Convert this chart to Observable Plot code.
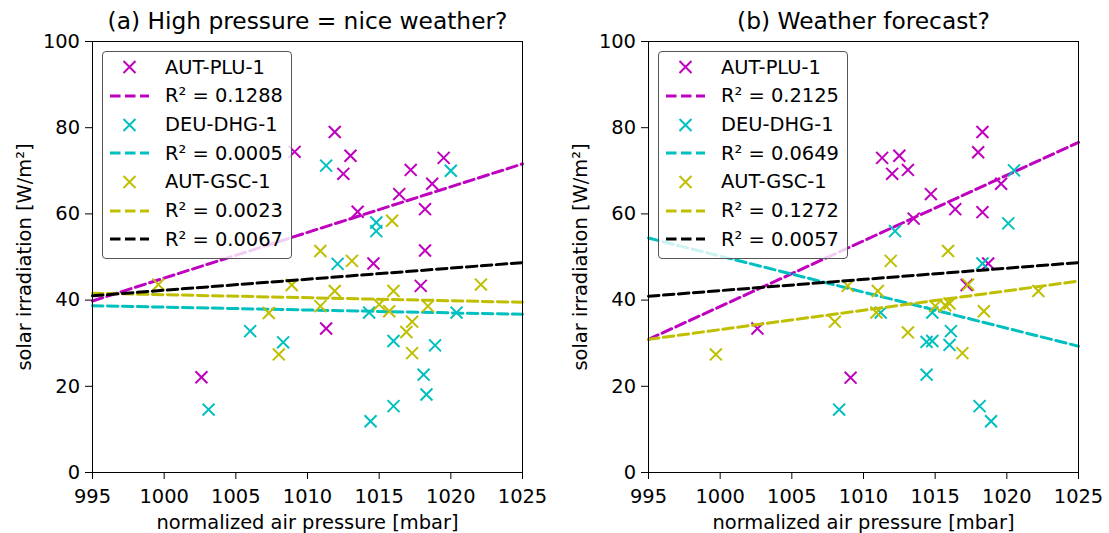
<!DOCTYPE html>
<html><head><meta charset="utf-8">
<script src="https://cdn.jsdelivr.net/npm/d3@7"></script>
<script src="https://cdn.jsdelivr.net/npm/@observablehq/plot@0.6"></script>
<style>
html,body{margin:0;padding:0;background:#fff;overflow:hidden;}
#root{position:relative;width:1109px;height:533px;font-family:"DejaVu Sans",sans-serif;}
.panel{position:absolute;top:0;}
.legend{position:absolute;top:51px;width:190px;height:208px;box-sizing:border-box;border:1px solid #555;border-radius:4px;background:rgba(255,255,255,0.8);padding-top:1px;}
.row{height:28.67px;display:flex;align-items:center;font-size:19.44px;color:#000;white-space:nowrap;font-family:"DejaVu Sans",sans-serif;}
.row svg{flex:none;width:62px;height:28px;}
</style></head><body><div id="root"></div>
<script>
// ---- data ----
const xTicks = [995, 1000, 1005, 1010, 1015, 1020, 1025];
const yTicks = [0, 20, 40, 60, 80, 100];
const seriesNames = ["AUT-PLU-1", "DEU-DHG-1", "AUT-GSC-1"];
const titles = ["(a) High pressure = nice weather?", "(b) Weather forecast?"];
const xLabel = "normalized air pressure [mbar]";
const yLabel = "solar irradiation [W/m²]";
const fitX = [995, 1025];

// panel (a): [pressure, irradiation]
const aPLU = [[1002.6,22.1],[1009.1,74.4],[1011.9,79.0],[1013.0,73.5],[1012.5,69.3],[1017.2,70.2],[1019.5,73.0],[1018.7,67.0],[1016.4,64.6],[1018.2,61.1],[1013.5,60.5],[1018.2,51.5],[1014.6,48.5],[1017.9,43.3],[1011.3,33.4]];
const aDHG = [[1011.3,71.2],[1020.0,70.0],[1014.8,58.0],[1014.8,56.0],[1006.0,32.8],[1008.3,30.2],[1003.1,14.6],[1012.1,48.4],[1014.3,37.1],[1020.4,37.1],[1016.0,30.5],[1018.9,29.5],[1018.1,22.7],[1018.3,18.1],[1016.0,15.4],[1014.4,11.9]];
const aGSC = [[1015.9,58.4],[1010.9,51.4],[1013.1,49.1],[999.6,43.6],[1007.3,37.0],[1008.0,27.4],[1008.9,43.5],[1011.9,42.1],[1010.9,38.6],[1016.0,42.1],[1015.0,39.0],[1015.7,37.4],[1018.4,38.6],[1017.3,35.0],[1016.9,32.6],[1017.3,27.7],[1022.1,43.6]];
const aFitPLU = [39.8, 71.6];
const aFitDHG = [38.7, 36.7];
const aFitGSC = [41.6, 39.5];
const aFitAll = [41.0, 48.7];
const aR2 = ["0.1288", "0.0005", "0.0023", "0.0067"];

// panel (b)
const bPLU = [[1018.3,79.0],[1018.0,74.3],[1011.3,73.0],[1012.5,73.5],[1012.0,69.3],[1013.1,70.2],[1014.7,64.6],[1019.6,67.0],[1016.4,61.1],[1013.5,58.9],[1018.3,60.4],[1018.7,48.5],[1017.2,43.5],[1002.6,33.4],[1009.1,22.0]];
const bDHG = [[1020.5,70.1],[1020.1,57.8],[1012.2,56.0],[1018.3,48.5],[1011.2,37.1],[1014.8,37.1],[1016.1,32.8],[1014.4,30.3],[1014.8,30.5],[1016.0,29.6],[1014.4,22.7],[1018.1,15.4],[1018.9,11.9],[1008.3,14.6]];
const bGSC = [[1015.9,51.4],[1011.9,49.1],[1011.0,42.1],[1010.9,37.1],[1017.3,43.6],[1022.2,42.1],[1015.0,38.6],[1015.7,38.8],[1016.0,39.2],[1018.4,37.4],[1013.1,32.5],[1016.9,27.7],[999.7,27.4],[1008.0,35.0],[1008.9,43.3]];
const bFitPLU = [30.9, 76.6];
const bFitDHG = [54.4, 29.3];
const bFitGSC = [30.9, 44.4];
const bFitAll = [40.9, 48.7];
const bR2 = ["0.2125", "0.0649", "0.1272", "0.0057"];

// ---- styling ----
const colors = ["#bf00bf", "#00bfbf", "#bfbf00", "#000000"];
const DASH = "10.5,4.5";
const LW = 3.0;
const FONT = "DejaVu Sans";

function makePanel(pts, fits, r2, title, left, width, mr) {
  const marks = [];
  pts.forEach((p, i) => {
    marks.push(Plot.dot(p, {x: d => d[0], y: d => d[1], symbol: "times", r: 5.5, stroke: colors[i], fill: "none", strokeWidth: 2}));
    marks.push(Plot.line(fitX.map((x, j) => [x, fits[i][j]]), {x: d => d[0], y: d => d[1], stroke: colors[i], strokeWidth: LW, strokeDasharray: DASH}));
  });
  marks.push(Plot.line(fitX.map((x, j) => [x, fits[3][j]]), {x: d => d[0], y: d => d[1], stroke: colors[3], strokeWidth: LW, strokeDasharray: DASH}));
  marks.push(Plot.frame({stroke: "black", strokeWidth: 1}));
  marks.push(Plot.axisX({ticks: xTicks, tickFormat: d => String(d), tickSize: 7, tickPadding: 9.7, label: null}));
  marks.push(Plot.axisY({ticks: yTicks, tickFormat: d => String(d), tickSize: 7, tickPadding: 5.5, label: null}));
  marks.push(Plot.text([title], {text: d => d, frameAnchor: "top", lineAnchor: "bottom", dy: -13, fontSize: 23.33}));
  marks.push(Plot.text([xLabel], {text: d => d, frameAnchor: "bottom", lineAnchor: "bottom", dy: 56}));
  marks.push(Plot.text([yLabel], {text: d => d, frameAnchor: "left", rotate: -90, lineAnchor: "bottom", textAnchor: "middle", dx: -62}));

  const chart = Plot.plot({
    width, height: 533,
    marginLeft: 92, marginRight: mr, marginTop: 41, marginBottom: 61,
    x: {domain: [995, 1025], label: null},
    y: {domain: [0, 100], label: null},
    style: {fontFamily: FONT, fontSize: "19.44px", color: "black", background: "white"},
    marks
  });
  const div = document.createElement("div");
  div.className = "panel";
  div.style.left = left + "px";
  div.style.width = width + "px";
  div.appendChild(chart);
  document.getElementById("root").appendChild(div);

  // legend
  const lg = document.createElement("div");
  lg.className = "legend";
  lg.style.left = (left + 102) + "px";
  const rows = [];
  seriesNames.forEach((name, i) => {
    rows.push({kind: "marker", color: colors[i], label: name});
    rows.push({kind: "line", color: colors[i], label: "R² = " + r2[i]});
  });
  rows.push({kind: "line", color: colors[3], label: "R² = " + r2[3]});
  rows.forEach(r => {
    const row = document.createElement("div");
    row.className = "row";
    const svg = d3.create("svg").attr("width", 62).attr("height", 28);
    if (r.kind === "marker") {
      svg.append("path").attr("d", "M-6,-6L6,6M-6,6L6,-6").attr("transform", "translate(26.5,14)")
        .attr("stroke", r.color).attr("stroke-width", 2).attr("fill", "none");
    } else {
      svg.append("line").attr("x1", 7).attr("x2", 46).attr("y1", 14).attr("y2", 14)
        .attr("stroke", r.color).attr("stroke-width", LW).attr("stroke-dasharray", DASH);
    }
    row.appendChild(svg.node());
    const span = document.createElement("span");
    span.textContent = r.label;
    row.appendChild(span);
    lg.appendChild(row);
  });
  document.getElementById("root").appendChild(lg);
}

makePanel([aPLU, aDHG, aGSC], [aFitPLU, aFitDHG, aFitGSC, aFitAll], aR2, titles[0], 0, 554, 32);
makePanel([bPLU, bDHG, bGSC], [bFitPLU, bFitDHG, bFitGSC, bFitAll], bR2, titles[1], 556, 553, 31);
</script></body></html>
